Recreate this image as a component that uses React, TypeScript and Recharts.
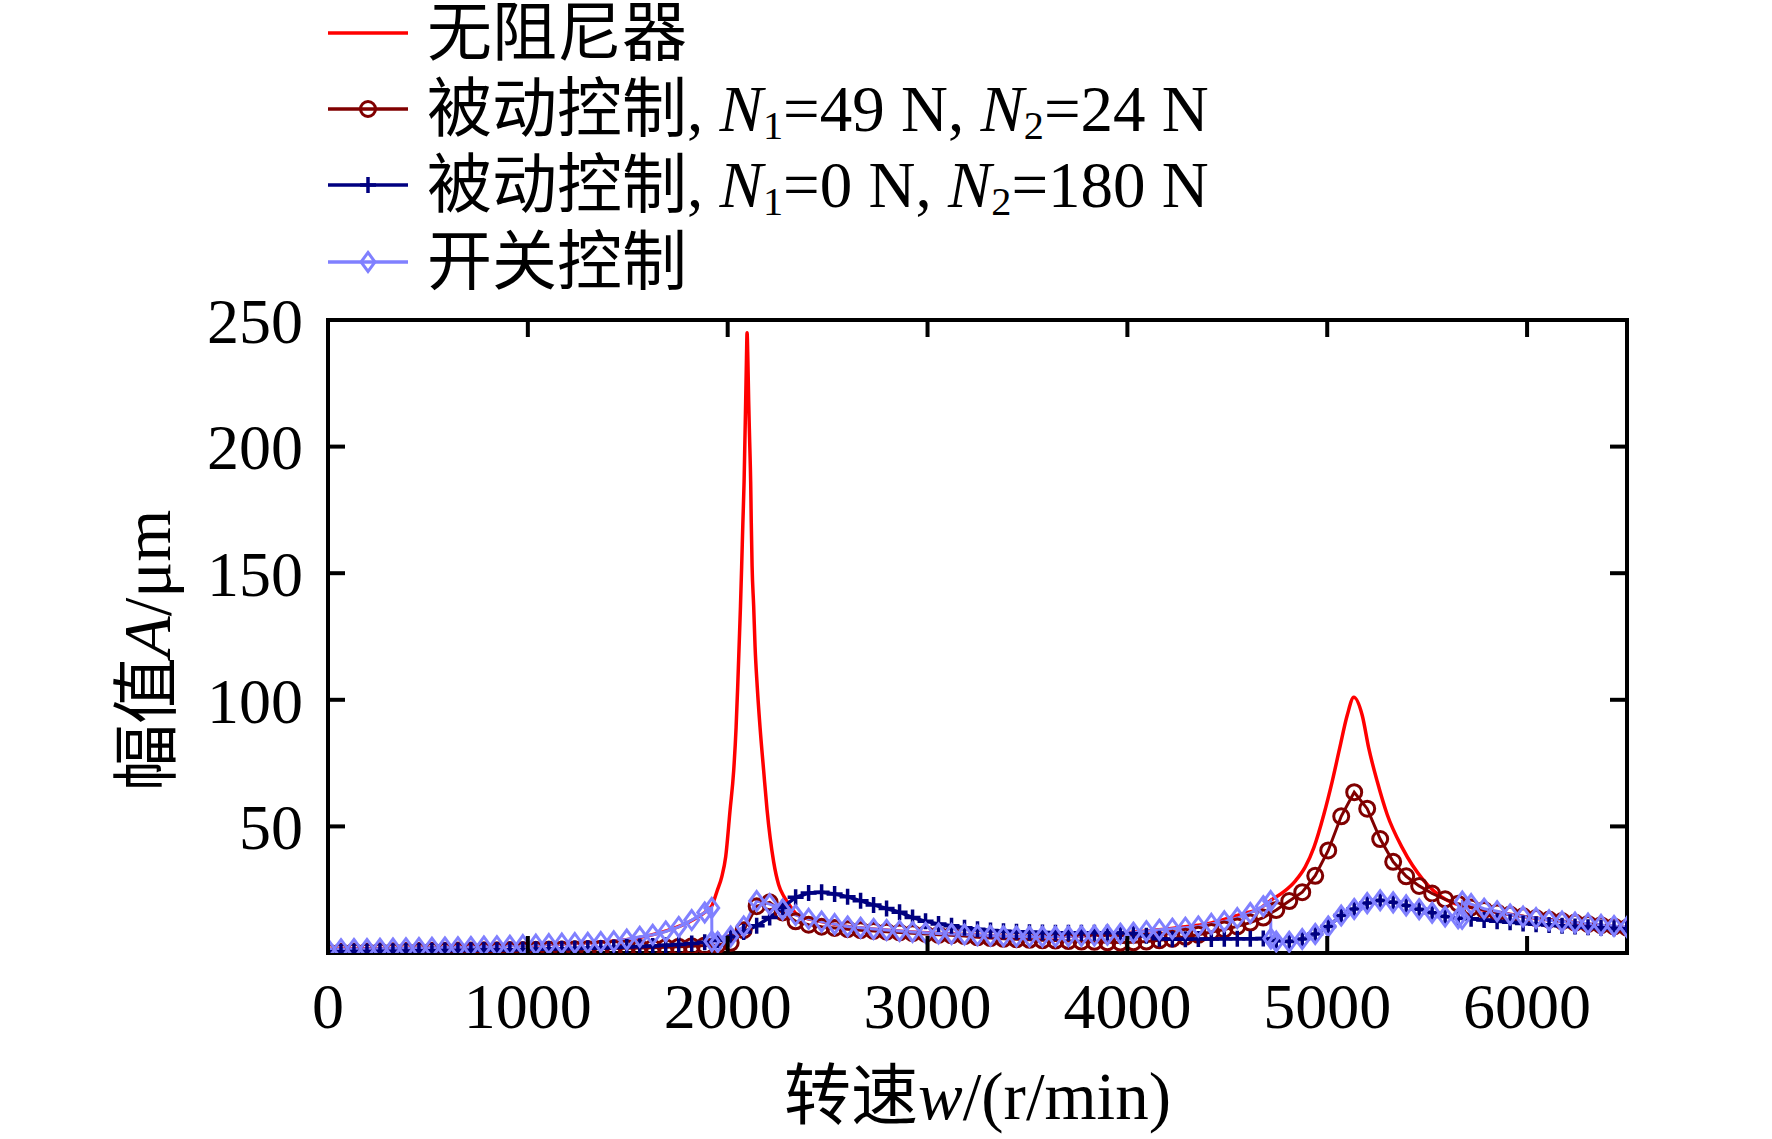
import React from 'react'
import { LineChart, Line, XAxis, YAxis, Legend } from 'recharts'

const FONT = "'Liberation Serif', 'Noto Sans CJK SC', serif"
const RED = '#ff0000'
const MAROON = '#800000'
const NAVY = '#000080'
const LILAC = '#8080ff'

// speed grid (r/min) used by the two passive-control curves
const speedGrid = [
  0, 65, 130, 195, 260, 325, 390, 455, 520, 585,
  650, 715, 780, 845, 910, 975, 1040, 1105, 1170, 1235,
  1300, 1365, 1430, 1495, 1560, 1625, 1690, 1755, 1820, 1885,
  1950, 2015, 2080, 2145, 2210, 2275, 2340, 2405, 2470, 2535,
  2600, 2665, 2730, 2795, 2860, 2925, 2990, 3055, 3120, 3185,
  3250, 3315, 3380, 3445, 3510, 3575, 3640, 3705, 3770, 3835,
  3900, 3965, 4030, 4095, 4160, 4225, 4290, 4355, 4420, 4485,
  4550, 4615, 4680, 4745, 4810, 4875, 4940, 5005, 5070, 5135,
  5200, 5265, 5330, 5395, 5460, 5525, 5590, 5655, 5720, 5785,
  5850, 5915, 5980, 6045, 6110, 6175, 6240, 6305, 6370, 6435,
  6500,
]

// 被动控制, N1=49 N, N2=24 N
const passiveA = [
  0.5, 0.5, 0.6, 0.6, 0.7, 0.7, 0.8, 0.8, 0.9, 0.9,
  1.0, 1.0, 1.1, 1.1, 1.2, 1.2, 1.3, 1.4, 1.4, 1.5,
  1.6, 1.7, 1.8, 1.9, 2.0, 2.1, 2.3, 2.5, 2.7, 3.0,
  3.2, 4.0, 9.0, 18.5, 20.0, 16.0, 12.5, 11.2, 10.4, 9.9,
  9.4, 9.0, 8.7, 8.4, 8.1, 7.8, 7.5, 7.2, 7.0, 6.7,
  6.2, 5.9, 5.6, 5.4, 5.2, 5.0, 4.9, 4.7, 4.5, 4.4,
  4.2, 4.1, 4.2, 4.5, 5.0, 5.6, 6.4, 7.2, 8.3, 9.3,
  10.5, 12.0, 14.0, 17.0, 20.5, 24.0, 30.5, 40.5, 54.0, 63.5,
  57.0, 45.0, 36.0, 30.3, 26.5, 23.5, 21.2, 19.5, 18.0, 17.0,
  16.0, 15.2, 14.5, 13.8, 13.2, 12.6, 12.0, 11.5, 11.0, 10.5,
  10.0,
]

// 被动控制, N1=0 N, N2=180 N
const passiveB = [
  0.5, 0.5, 0.6, 0.6, 0.7, 0.7, 0.8, 0.9, 0.9, 1.0,
  1.0, 1.1, 1.2, 1.2, 1.3, 1.4, 1.5, 1.6, 1.7, 1.8,
  1.9, 2.0, 2.2, 2.4, 2.6, 2.8, 3.1, 3.4, 3.8, 4.2,
  5.0, 6.3, 8.3, 10.8, 14.0, 18.0, 22.0, 23.7, 24.0, 23.3,
  22.2, 20.6, 19.0, 17.6, 16.1, 14.0, 12.5, 11.5, 10.8, 10.0,
  9.4, 8.9, 8.6, 8.4, 8.2, 8.1, 8.0, 8.0, 8.0, 8.0,
  8.0, 7.9, 7.6, 6.8, 5.6, 5.4, 5.4, 5.5, 5.5, 5.6,
  5.6, 5.6, 5.7, 4.8, 4.5, 5.5, 7.5, 10.5, 14.8, 17.4,
  19.7, 20.8, 20.0, 18.8, 17.3, 15.9, 14.4, 13.7, 13.5, 13.0,
  12.5, 12.1, 11.7, 11.4, 11.1, 10.8, 10.5, 10.2, 10.0, 9.8,
  9.6,
]

// 开关控制 (switch points appear twice: before / after switching)
const switchSpeed = [
  0, 65, 130, 195, 260, 325, 390, 455, 520, 585,
  650, 715, 780, 845, 910, 975, 1040, 1105, 1170, 1235,
  1300, 1365, 1430, 1495, 1560, 1625, 1690, 1755, 1820, 1885,
  1920, 1921,
  1950, 2015, 2080, 2145, 2210, 2275, 2340, 2405, 2470, 2535,
  2600, 2665, 2730, 2795, 2860, 2925, 2990, 3055, 3120, 3185,
  3250, 3315, 3380, 3445, 3510, 3575, 3640, 3705, 3770, 3835,
  3900, 3965, 4030, 4095, 4160, 4225, 4290, 4355, 4420, 4485,
  4550, 4615, 4680,
  4717, 4718,
  4745, 4810, 4875, 4940, 5005, 5070, 5135,
  5200, 5265, 5330, 5395, 5460, 5525, 5590, 5655,
  5675, 5676,
  5720, 5785,
  5850, 5915, 5980, 6045, 6110, 6175, 6240, 6305, 6370, 6435,
  6500,
]
const switchAmp = [
  1.5, 1.5, 1.6, 1.6, 1.7, 1.8, 1.9, 2.0, 2.1, 2.2,
  2.3, 2.4, 2.6, 2.7, 2.9, 3.1, 3.3, 3.5, 3.7, 3.9,
  4.0, 4.3, 4.6, 5.3, 6.4, 7.2, 8.5, 10.3, 13.0, 16.0,
  17.8, 4.6,
  4.3, 6.5, 10.5, 20.5, 19.3, 17.2, 15.0, 13.5, 12.4, 11.4,
  10.5, 10.0, 9.5, 9.1, 8.7, 8.3, 8.0, 7.7, 7.5, 7.3,
  7.0, 6.8, 6.6, 6.5, 6.5, 6.5, 6.5, 6.6, 6.7, 6.9,
  7.2, 7.6, 8.0, 8.6, 9.2, 9.6, 10.0, 10.5, 11.5, 12.5,
  13.8, 15.8, 18.5,
  20.5, 5.7,
  4.5, 4.4, 5.5, 7.5, 10.5, 14.8, 17.4,
  19.7, 20.8, 20.0, 18.8, 17.3, 15.9, 14.4, 13.7,
  13.5, 20.3,
  19.3, 17.5,
  16.5, 15.2, 14.4, 13.8, 12.9, 12.4, 12.0, 11.6, 11.1, 10.7,
  10.3,
]

// 无阻尼器
const freeSpeed = [
  0, 500, 1000, 1300, 1500, 1700, 1800, 1885, 1920, 1947,
  1970, 1990, 2012, 2030, 2042, 2050, 2057, 2064, 2070, 2076,
  2082, 2086, 2090, 2094, 2097, 2101, 2105, 2110, 2115, 2118,
  2122, 2130, 2137, 2148, 2162, 2180, 2197, 2230, 2255, 2280,
  2300, 2350, 2420, 2500, 2600, 2750, 2920, 3100, 3250, 3420,
  3600, 3750, 3920, 4100, 4250, 4420, 4590, 4660, 4717, 4780,
  4842, 4890, 4933, 4983, 5025, 5062, 5100, 5133, 5175, 5208,
  5250, 5300, 5375, 5483, 5600, 5750, 5900, 6000, 6200, 6400,
  6500,
]
const freeAmp = [
  1.5, 2.0, 3.2, 4.0, 5.3, 8.9, 12.0, 16.0, 18.5, 24.5,
  30, 38, 56.5, 72, 89, 105, 121, 137, 153, 170,
  186, 202, 218, 235, 245, 234, 218, 202, 186, 170,
  153, 137, 121, 105, 89, 72, 56.5, 36, 27, 22.5,
  20, 15, 13.2, 11.9, 10.5, 9.3, 8.3, 7.6, 7.0, 6.5,
  6.4, 6.7, 7.4, 8.7, 10, 11.9, 15.8, 17.4, 20.8, 24,
  28.6, 34, 41.6, 54.7, 67.8, 80.8, 93.9, 101, 93.9, 80.8,
  67.8, 54.7, 41.6, 28.6, 20.8, 17.5, 15.5, 14.2, 12.3, 10.6,
  10,
]

const xTicks = [0, 1000, 2000, 3000, 4000, 5000, 6000]
const yTicks = [50, 100, 150, 200, 250]

const zip = (w: number[], a: number[]) => w.map((v, i) => ({ w: v, a: a[i] }))

const freeData = zip(freeSpeed, freeAmp)
const passiveAData = zip(speedGrid, passiveA)
const passiveBData = zip(speedGrid, passiveB)
const switchData = zip(switchSpeed, switchAmp)

const TICK_LEN = 17
const X_GAP = 30
const Y_GAP = 25
const TICK_FONT = 64
const TITLE_FONT = 67
const ROW_H = 76
const AXIS = { stroke: '#000', strokeWidth: 4, strokeLinecap: 'square' as const }

function CircleDot({ cx, cy }: any) {
  if (cx == null || cy == null) return null
  return <circle cx={cx} cy={cy} r={7.5} fill="none" stroke={MAROON} strokeWidth={3} />
}

function PlusDot({ cx, cy }: any) {
  if (cx == null || cy == null) return null
  return (
    <path d={`M${cx - 8},${cy}H${cx + 8}M${cx},${cy - 8}V${cy + 8}`} stroke={NAVY} strokeWidth={3.5} fill="none" />
  )
}

function DiamondDot({ cx, cy }: any) {
  if (cx == null || cy == null) return null
  return (
    <path
      d={`M${cx},${cy - 9.5}L${cx + 7},${cy}L${cx},${cy + 9.5}L${cx - 7},${cy}Z`}
      stroke={LILAC}
      strokeWidth={3}
      fill="none"
    />
  )
}

function BottomTick({ x, y, payload }: any) {
  return (
    <g>
      <line x1={x} x2={x} y1={y - X_GAP} y2={y - X_GAP - TICK_LEN} stroke="#000" strokeWidth={4} />
      <text x={x} y={y} dy="0.71em" textAnchor="middle" fontSize={TICK_FONT} fontFamily={FONT} fill="#000">
        {payload.value}
      </text>
    </g>
  )
}

function LeftTick({ x, y, payload }: any) {
  return (
    <g>
      <line x1={x + Y_GAP} x2={x + Y_GAP + TICK_LEN} y1={y} y2={y} stroke="#000" strokeWidth={4} />
      <text x={x} y={y} dy="0.355em" textAnchor="end" fontSize={TICK_FONT} fontFamily={FONT} fill="#000">
        {payload.value}
      </text>
    </g>
  )
}

function TopTick({ x, y }: any) {
  return <line x1={x} x2={x} y1={y} y2={y + TICK_LEN} stroke="#000" strokeWidth={4} />
}

function RightTick({ x, y }: any) {
  return <line x1={x} x2={x - TICK_LEN} y1={y} y2={y} stroke="#000" strokeWidth={4} />
}

function XTitle({ viewBox }: any) {
  const cx = viewBox ? viewBox.x + viewBox.width / 2 : 977
  const cy = viewBox ? viewBox.y + 143 : 1096
  return (
    <text x={cx} y={cy} textAnchor="middle" dominantBaseline="central" fontSize={TITLE_FONT} fontFamily={FONT} fill="#000">
      转速<tspan fontStyle="italic">w</tspan>/(r/min)
    </text>
  )
}

function YTitle({ viewBox }: any) {
  const cx = viewBox ? viewBox.x + viewBox.width / 2 - 141 : 147
  const cy = viewBox ? viewBox.y + viewBox.height / 2 + 14 : 651
  return (
    <text
      x={cx}
      y={cy}
      transform={`rotate(-90 ${cx} ${cy})`}
      textAnchor="middle"
      dominantBaseline="central"
      fontSize={TITLE_FONT}
      fontFamily={FONT}
      fill="#000"
    >
      幅值<tspan fontStyle="italic">A</tspan>/μm
    </text>
  )
}

const Sub = ({ children }: any) => (
  <span style={{ fontSize: '0.62em', position: 'relative', top: '0.2em' }}>{children}</span>
)

const legendItems = [
  { color: RED, marker: null, label: <>无阻尼器</> },
  {
    color: MAROON,
    marker: 'circle',
    label: (
      <>
        被动控制, <i>N</i><Sub>1</Sub>=49 N, <i>N</i><Sub>2</Sub>=24 N
      </>
    ),
  },
  {
    color: NAVY,
    marker: 'plus',
    label: (
      <>
        被动控制, <i>N</i><Sub>1</Sub>=0 N, <i>N</i><Sub>2</Sub>=180 N
      </>
    ),
  },
  { color: LILAC, marker: 'diamond', label: <>开关控制</> },
]

function LegendBox() {
  return (
    <div style={{ fontFamily: FONT, fontSize: 65, color: '#000', lineHeight: 1 }}>
      {legendItems.map((item, i) => (
        <div
          key={i}
          style={{ display: 'flex', alignItems: 'center', height: ROW_H, marginTop: i === 3 ? 1 : 0 }}
        >
          <svg width={80} height={ROW_H} style={{ flex: 'none' }}>
            <line x1={0} x2={80} y1={ROW_H / 2} y2={ROW_H / 2} stroke={item.color} strokeWidth={3.5} />
            {item.marker === 'circle' && <CircleDot cx={40} cy={ROW_H / 2} />}
            {item.marker === 'plus' && <PlusDot cx={40} cy={ROW_H / 2} />}
            {item.marker === 'diamond' && <DiamondDot cx={40} cy={ROW_H / 2} />}
          </svg>
          <span style={{ marginLeft: 19, whiteSpace: 'nowrap' }}>{item.label}</span>
        </div>
      ))}
    </div>
  )
}

export default function App() {
  return (
    <div style={{ width: 1772, height: 1139, background: '#fff' }}>
      <style>{'body{margin:0;background:#fff}'}</style>
      <LineChart width={1772} height={1139} margin={{ top: 310, right: 135, bottom: 126, left: 248 }}>
        <XAxis
          dataKey="w"
          type="number"
          domain={[0, 6500]}
          ticks={xTicks}
          allowDataOverflow
          height={60}
          axisLine={AXIS}
          tickLine={false}
          tickSize={0}
          tickMargin={X_GAP}
          tick={<BottomTick />}
          interval={0}
          label={<XTitle />}
        />
        <XAxis
          xAxisId="top"
          orientation="top"
          dataKey="w"
          type="number"
          domain={[0, 6500]}
          ticks={xTicks}
          allowDataOverflow
          height={10}
          axisLine={AXIS}
          tickLine={false}
          tickSize={0}
          tickMargin={0}
          tick={<TopTick />}
          interval={0}
        />
        <YAxis
          type="number"
          domain={[0, 250]}
          ticks={yTicks}
          allowDataOverflow
          width={80}
          axisLine={AXIS}
          tickLine={false}
          tickSize={0}
          tickMargin={Y_GAP}
          tick={<LeftTick />}
          interval={0}
          label={<YTitle />}
        />
        <YAxis
          yAxisId="right"
          orientation="right"
          type="number"
          domain={[0, 250]}
          ticks={yTicks}
          allowDataOverflow
          width={10}
          axisLine={AXIS}
          tickLine={false}
          tickSize={0}
          tickMargin={0}
          tick={<RightTick />}
          interval={0}
        />
        <Legend
          layout="vertical"
          align="center"
          verticalAlign="middle"
          content={<LegendBox />}
          wrapperStyle={{ left: 328, top: -5, width: 1000, height: 312 }}
        />
        <Line
          data={freeData}
          dataKey="a"
          type="monotone"
          stroke={RED}
          strokeWidth={3.5}
          dot={false}
          activeDot={false}
          isAnimationActive={false}
        />
        <Line
          data={passiveAData}
          dataKey="a"
          type="linear"
          stroke={MAROON}
          strokeWidth={3}
          dot={<CircleDot />}
          activeDot={false}
          isAnimationActive={false}
        />
        <Line
          data={passiveBData}
          dataKey="a"
          type="linear"
          stroke={NAVY}
          strokeWidth={3.5}
          dot={<PlusDot />}
          activeDot={false}
          isAnimationActive={false}
        />
        <Line
          data={switchData}
          dataKey="a"
          type="linear"
          stroke={LILAC}
          strokeWidth={3}
          dot={<DiamondDot />}
          activeDot={false}
          isAnimationActive={false}
        />
      </LineChart>
    </div>
  )
}
